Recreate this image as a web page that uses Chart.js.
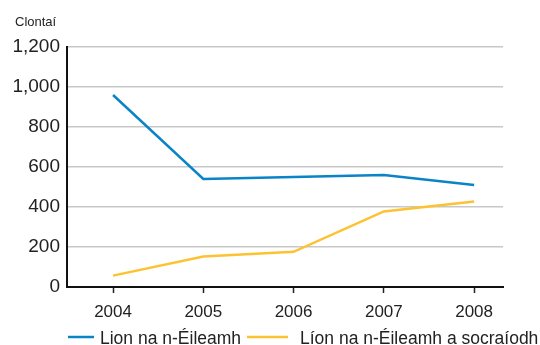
<!DOCTYPE html>
<html>
<head>
<meta charset="utf-8">
<script src="https://cdn.jsdelivr.net/npm/chart.js@4"></script>
<style>
  html, body { margin: 0; padding: 0; background: #fff; }
  #wrap { width: 540px; height: 345px; }
</style>
</head>
<body>
<div id="wrap"><canvas id="claims"></canvas></div>
<script>
// Claims per year
const years = [2004, 2005, 2006, 2007, 2008];
const claimsTotal = [960, 540, 550, 560, 510];
const claimsSettled = [57, 152, 176, 378, 428];
const yTicks = [0, 200, 400, 600, 800, 1000, 1200];

const seriesNames = ['Lion na n-Éileamh', 'Líon na n-Éileamh a socraíodh'];
const seriesColors = ['#0a84c6', '#fdc232'];
const unitLabel = 'Clontaí';

const FONT = '"Liberation Sans", Arial, sans-serif';

// unit caption and the legend row under the axis
const extras = {
    id: 'extras',
    afterDraw(chart) {
        const ctx = chart.ctx;
        ctx.save();
        ctx.fillStyle = '#222';
        ctx.font = '13px ' + FONT;
        ctx.textBaseline = 'alphabetic';
        ctx.textAlign = 'left';
        ctx.fillText(unitLabel, 15, 26);

        const spots = [{ x0: 68, x1: 94, tx: 100 }, { x0: 247, x1: 288, tx: 300 }];
        ctx.font = '17.5px ' + FONT;
        chart.data.datasets.forEach((ds, i) => {
            const s = spots[i];
            ctx.strokeStyle = ds.borderColor;
            ctx.lineWidth = 2.5;
            ctx.beginPath();
            ctx.moveTo(s.x0, 337);
            ctx.lineTo(s.x1, 337);
            ctx.stroke();
            ctx.fillStyle = '#222';
            ctx.fillText(ds.label, s.tx, 344);
        });
        ctx.restore();
    }
};

new Chart(document.getElementById('claims'), {
    type: 'line',
    data: {
        datasets: [
            {
                label: seriesNames[0],
                data: years.map((y, i) => ({ x: y, y: claimsTotal[i] })),
                borderColor: seriesColors[0],
                borderWidth: 2.5,
                pointRadius: 0,
                tension: 0
            },
            {
                label: seriesNames[1],
                data: years.map((y, i) => ({ x: y, y: claimsSettled[i] })),
                borderColor: seriesColors[1],
                borderWidth: 2.5,
                pointRadius: 0,
                tension: 0
            }
        ]
    },
    options: {
        responsive: true,
        maintainAspectRatio: false,
        animation: false,
        layout: { padding: { top: 47, right: 37, left: 0, bottom: 0 } },
        plugins: { legend: { display: false }, tooltip: { enabled: false } },
        scales: {
            x: {
                type: 'linear',
                min: 2003.49,
                max: 2008.32,
                afterBuildTicks: scale => { scale.ticks = years.map(v => ({ value: v })); },
                afterFit: scale => { scale.height = 58; },
                grid: {
                    drawOnChartArea: false,
                    drawTicks: true,
                    tickLength: 6,
                    tickWidth: 1.5,
                    tickColor: '#222'
                },
                border: { color: '#111', width: 2 },
                ticks: {
                    color: '#222',
                    font: { family: FONT, size: 17 },
                    padding: 9,
                    callback: v => String(v)
                }
            },
            y: {
                min: 0,
                max: 1200,
                afterBuildTicks: scale => { scale.ticks = yTicks.map(v => ({ value: v })); },
                afterFit: scale => { scale.width = 67; },
                grid: {
                    color: '#c8c8c8',
                    lineWidth: 1.5,
                    drawTicks: false
                },
                border: { color: '#111', width: 2 },
                ticks: {
                    color: '#222',
                    font: { family: FONT, size: 19 },
                    padding: 7,
                    callback: v => v.toLocaleString('en-US')
                }
            }
        }
    },
    plugins: [extras]
});
</script>
</body>
</html>
